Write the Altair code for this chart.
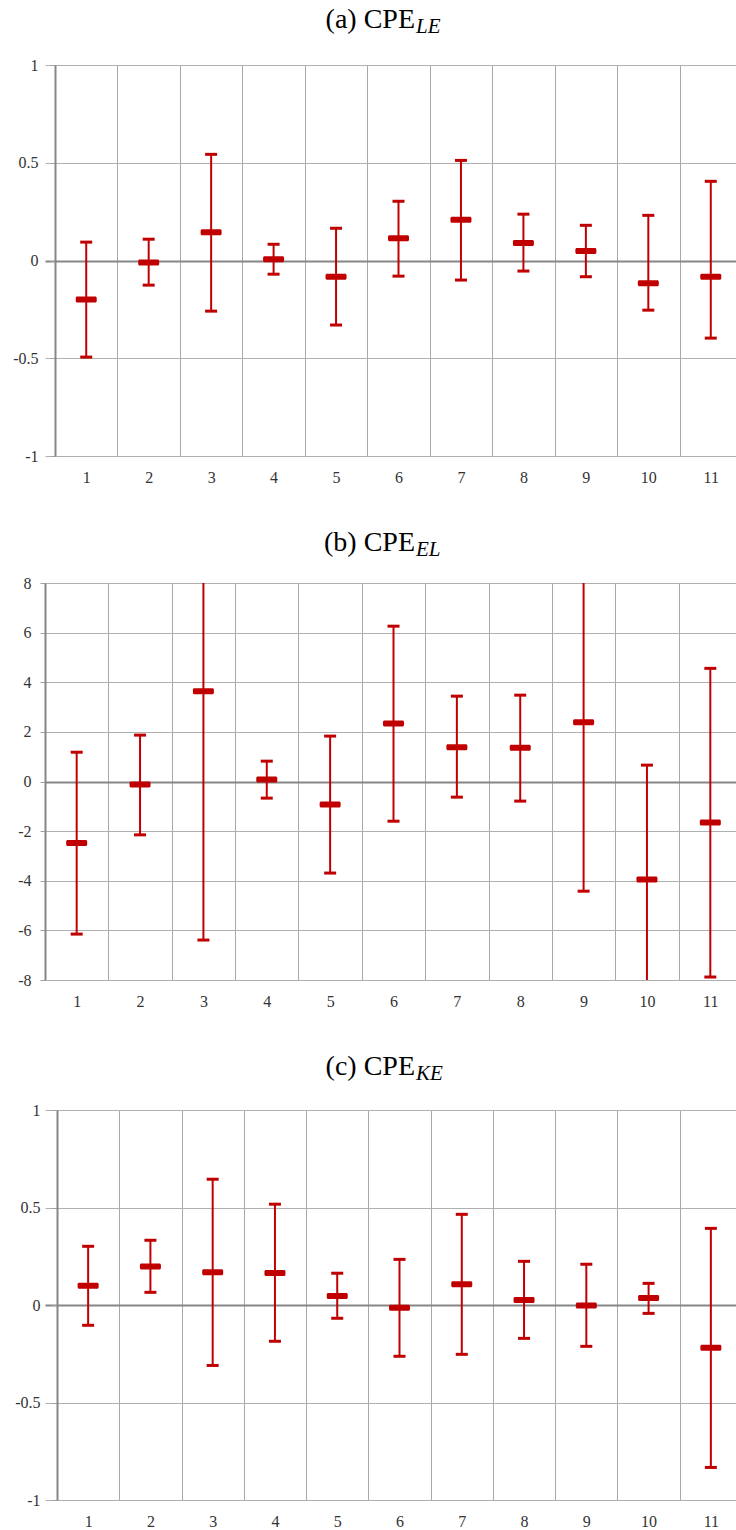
import altair as alt
import pandas as pd

# ---------------- data ----------------
categories = [str(i) for i in range(1, 12)]

a_mean = [-0.200, -0.010, 0.145, 0.007, -0.083, 0.114, 0.208, 0.090, 0.048, -0.117, -0.083]
a_low = [-0.494, -0.126, -0.259, -0.070, -0.330, -0.080, -0.100, -0.054, -0.083, -0.254, -0.397]
a_high = [0.094, 0.109, 0.543, 0.083, 0.165, 0.303, 0.512, 0.237, 0.180, 0.231, 0.405]

b_mean = [-2.48, -0.12, 3.64, 0.08, -0.93, 2.34, 1.38, 1.36, 2.39, -3.95, -1.65]
b_low = [-6.15, -2.15, -6.39, -0.67, -3.69, -1.60, -0.63, -0.79, -4.42, -8.56, -7.88]
b_high = [1.18, 1.87, 13.67, 0.82, 1.83, 6.26, 3.44, 3.48, 9.20, 0.66, 4.56]

c_mean = [0.099, 0.198, 0.168, 0.164, 0.046, -0.014, 0.106, 0.026, -0.003, 0.036, -0.219]
c_low = [-0.104, 0.065, -0.310, -0.186, -0.068, -0.263, -0.253, -0.171, -0.212, -0.043, -0.833]
c_high = [0.301, 0.332, 0.645, 0.517, 0.163, 0.234, 0.465, 0.224, 0.209, 0.111, 0.393]

titles_main = ["(a) CPE", "(b) CPE", "(c) CPE"]
titles_sub = ["LE", "EL", "KE"]

y_ticks_unit = [-1, -0.5, 0, 0.5, 1]
y_ticks_b = [-8, -6, -4, -2, 0, 2, 4, 6, 8]

# ---------------- styling ----------------
RED = "#c00000"
FONT = "Liberation Serif"
GRID = "#b0b0b0"
ZERO = "#868686"
ORIGIN = 45      # common left edge of the plot groups
PLOT_W = 691     # 45 + 691 = 736 (the right-most column runs past the page edge)
SPAN = 697

positions = [int(c) for c in categories]
boundaries = [p - 0.5 for p in positions]


def panel(mean, low, high, ticks, domain, shift, h, t_main, t_sub, t_dy, x_ext, lpad):
    df = pd.DataFrame({"pos": positions, "mean": mean, "low": low, "high": high})
    step = (SPAN - shift) / len(positions)
    lo = 0.5 - shift / step
    hi = 0.5 + (PLOT_W - shift) / step
    x = alt.X(
        "pos:Q", title=None,
        scale=alt.Scale(domain=[lo, hi], nice=False, zero=False),
        axis=alt.Axis(
            values=boundaries, labelExpr="'' + (datum.value + 0.5)", labelOffset=step / 2,
            labelFlush=False, labelOverlap=False,
            grid=True, gridColor="#a8a8a8", gridWidth=1, domain=False, ticks=False,
            labelAngle=0, labelPadding=13,
            labelFont=FONT, labelFontSize=16, labelColor="#333333",
            minExtent=x_ext, maxExtent=x_ext,
        ),
    )
    yaxis = alt.Axis(
        values=ticks, labelExpr="'' + datum.value", grid=True, offset=-shift,
        gridColor={"condition": {"test": "datum.value === 0", "value": ZERO}, "value": GRID},
        gridWidth={"condition": {"test": "datum.value === 0", "value": 2}, "value": 1},
        domainColor=ZERO, domainWidth=2, tickColor="#a0a0a0", tickSize=5, tickWidth=1,
        labelPadding=lpad, labelFont=FONT, labelFontSize=16, labelColor="#333333",
        labelFlush=False, minExtent=ORIGIN, maxExtent=ORIGIN,
    )
    yscale = alt.Scale(domain=domain, nice=False, zero=False)

    base = alt.Chart(df)
    rule = base.mark_rule(color=RED, strokeWidth=2, opacity=1, clip=True).encode(
        x=x, y=alt.Y("low:Q", scale=yscale, axis=yaxis, title=None), y2="high:Q")
    cap_lo = base.mark_tick(color=RED, orient="horizontal", size=12, thickness=3,
                            opacity=1, clip=True).encode(
        x=x, y=alt.Y("low:Q", scale=yscale, axis=yaxis, title=None))
    cap_hi = base.mark_tick(color=RED, orient="horizontal", size=12, thickness=3,
                            opacity=1, clip=True).encode(
        x=x, y=alt.Y("high:Q", scale=yscale, axis=yaxis, title=None))
    mid = base.mark_tick(color=RED, orient="horizontal", size=21, thickness=6,
                         cornerRadius=1.5, opacity=1, clip=True).encode(
        x=x, y=alt.Y("mean:Q", scale=yscale, axis=yaxis, title=None))

    tdf = pd.DataFrame({"main": [t_main], "sub": [t_sub]})
    tx = 415 - ORIGIN
    t1 = alt.Chart(tdf).mark_text(
        font=FONT, fontSize=28, align="right", baseline="alphabetic", color="#000000"
    ).encode(text="main:N", x=alt.value(tx), y=alt.value(-t_dy))
    t2 = alt.Chart(tdf).mark_text(
        font=FONT, fontSize=21, fontStyle="italic", align="left", baseline="alphabetic",
        color="#000000"
    ).encode(text="sub:N", x=alt.value(tx + 1), y=alt.value(-t_dy + 5))

    return alt.layer(rule, cap_lo, cap_hi, mid, t1, t2).properties(width=PLOT_W, height=h)


pa = panel(a_mean, a_low, a_high, y_ticks_unit, [-1, 1], 10, 391,
           titles_main[0], titles_sub[0], 37, 33, 12)
pb = panel(b_mean, b_low, b_high, y_ticks_b, [-8, 8], 0, 397,
           titles_main[1], titles_sub[1], 32, 33, 9)
pc = panel(c_mean, c_low, c_high, y_ticks_unit, [-1, 1], 12, 390,
           titles_main[2], titles_sub[2], 35, 27, 12)

chart = alt.vconcat(pa, pb, pc, spacing=40).properties(
    padding={"top": 6, "left": 0, "right": 0, "bottom": 0},
    background="white",
).configure_view(stroke=None)

chart.save("out.html", embed_options={"renderer": "svg", "actions": False})
